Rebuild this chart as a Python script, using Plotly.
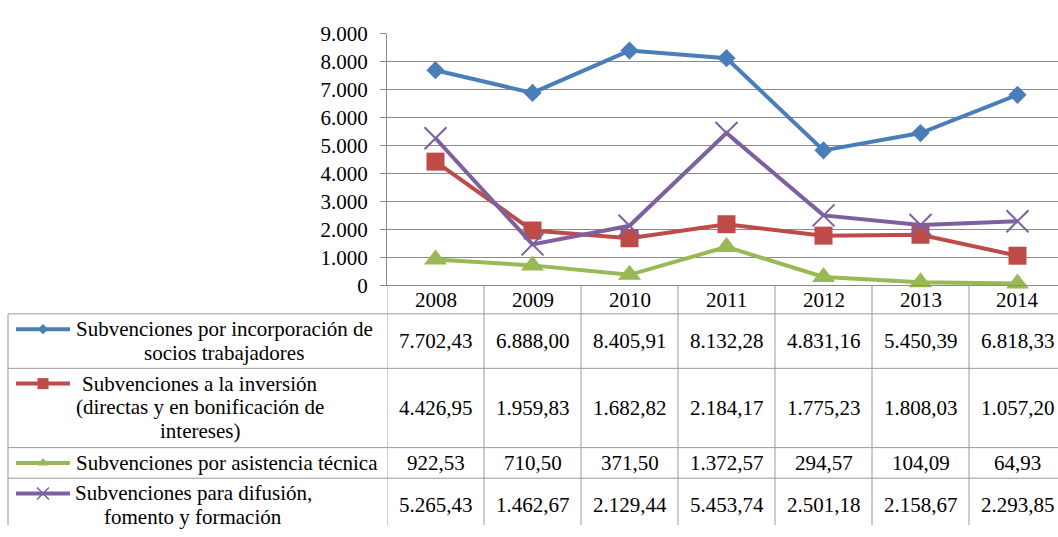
import plotly.graph_objects as go

# ---------------- data ----------------
years = ["2008", "2009", "2010", "2011", "2012", "2013", "2014"]
series_names = [
    "Subvenciones por incorporación de<br>socios trabajadores",
    "Subvenciones a la inversión<br>(directas y en bonificación de<br>intereses)",
    "Subvenciones por asistencia técnica",
    "Subvenciones para difusión,<br>fomento y formación",
]
incorporacion = [7702.43, 6888.00, 8405.91, 8132.28, 4831.16, 5450.39, 6818.33]
inversion = [4426.95, 1959.83, 1682.82, 2184.17, 1775.23, 1808.03, 1057.20]
asistencia = [922.53, 710.50, 371.50, 1372.57, 294.57, 104.09, 64.93]
difusion = [5265.43, 1462.67, 2129.44, 5453.74, 2501.18, 2158.67, 2293.85]
y_tick_vals = [0, 1000, 2000, 3000, 4000, 5000, 6000, 7000, 8000, 9000]

series_values = [incorporacion, inversion, asistencia, difusion]

# ---------------- styles / layout ----------------
W, H = 1058, 537
FONT = "Liberation Serif, Times New Roman, serif"
FS = 21
colors = ["#4A7EBB", "#BE4B48", "#98B954", "#7D60A0"]
symbols = ["diamond", "square", "triangle-up", "x-thin"]
msizes = [14, 18, 20, 22]
key_msizes = [8, 11, 10, 12]
GRID = "#8A8A8A"
TBL = "#9A9A9A"

def py(p):
    return 1 - p / H

def pxx(p):
    return p / W

def fmt(v):
    s = f"{v:,.2f}"
    return s.replace(",", "X").replace(".", ",").replace("X", ".")

plot_left, plot_top, plot_bottom = 387, 23, 286
col_w = 97
x_max = len(years) - 0.5 - (plot_left + col_w * len(years) - W) / col_w

fig = go.Figure()

for i, vals in enumerate(series_values):
    mk = dict(symbol=symbols[i], size=msizes[i], color=colors[i])
    if symbols[i] == "x-thin":
        mk["line"] = dict(color=colors[i], width=2)
    fig.add_trace(go.Scatter(
        x=years, y=vals, mode="lines+markers",
        line=dict(color=colors[i], width=4),
        marker=mk, cliponaxis=False, showlegend=False,
        xaxis="x", yaxis="y",
    ))

# ---- table geometry (pixels) ----
row_lines = [316, 373, 456, 488]
row_centers = [344.5, 414.5, 472, 516.5]
label_cx = [224, 200, 226.5, 193]
key_y = [332, 389, 472, 504]
line_gap = 25
header_y = 301
table_left = 8

# legend keys drawn on a hidden full-figure overlay axis
for i in range(len(series_values)):
    fig.add_trace(go.Scatter(
        x=[16, 70], y=[key_y[i], key_y[i]], mode="lines",
        line=dict(color=colors[i], width=4), showlegend=False,
        xaxis="x2", yaxis="y2", hoverinfo="skip",
    ))
    mk = dict(symbol=symbols[i], size=key_msizes[i], color=colors[i])
    if symbols[i] == "x-thin":
        mk["line"] = dict(color=colors[i], width=1.5)
    fig.add_trace(go.Scatter(
        x=[43], y=[key_y[i]], mode="markers", marker=mk, showlegend=False,
        xaxis="x2", yaxis="y2", hoverinfo="skip",
    ))

shapes = []
for ry in row_lines:
    shapes.append(dict(type="line", xref="paper", yref="paper",
                       x0=pxx(table_left), x1=1, y0=py(ry), y1=py(ry),
                       line=dict(color=TBL, width=1)))
shapes.append(dict(type="line", xref="paper", yref="paper",
                   x0=pxx(table_left), x1=pxx(table_left), y0=py(row_lines[0]), y1=0,
                   line=dict(color=TBL, width=1)))
for i in range(len(years)):
    shapes.append(dict(type="line", xref="x", yref="paper",
                       x0=i - 0.5, x1=i - 0.5, y0=py(plot_bottom), y1=0,
                       line=dict(color=TBL, width=1)))

annotations = []
for i, yr in enumerate(years):
    annotations.append(dict(x=i, y=py(header_y), xref="x", yref="paper",
                            text=yr, showarrow=False, xanchor="center", yanchor="middle",
                            font=dict(family=FONT, size=FS, color="black")))
for r, vals in enumerate(series_values):
    for k, part in enumerate(series_names[r].split("<br>")):
        annotations.append(dict(x=pxx(label_cx[r]), y=py(key_y[r] + k * line_gap),
                                xref="paper", yref="paper",
                                text=part, showarrow=False, align="center",
                                xanchor="center", yanchor="middle",
                                font=dict(family=FONT, size=FS, color="black")))
    for i, v in enumerate(vals):
        annotations.append(dict(x=i, y=py(row_centers[r]), xref="x", yref="paper",
                                text=fmt(v), showarrow=False, xanchor="center", yanchor="middle",
                                font=dict(family=FONT, size=FS, color="black")))

fig.update_layout(
    width=W, height=H,
    margin=dict(l=0, r=0, t=0, b=0),
    paper_bgcolor="white", plot_bgcolor="rgba(0,0,0,0)",
    separators=",.",
    showlegend=False,
    xaxis=dict(
        domain=[pxx(plot_left), 1], type="category", categoryorder="array",
        categoryarray=years, range=[-0.5, x_max],
        showticklabels=False, ticks="", showgrid=False,
        showline=True, linecolor=GRID, linewidth=1, zeroline=False,
        anchor="y", fixedrange=True,
    ),
    yaxis=dict(
        domain=[py(plot_bottom), py(plot_top)], range=[0, 9000],
        tickvals=y_tick_vals, tickformat=",d",
        ticks="outside", ticklen=6, tickcolor=GRID, tickwidth=1,
        ticklabelstandoff=8,
        showgrid=True, gridcolor=GRID, gridwidth=1,
        showline=True, linecolor=GRID, linewidth=1, zeroline=False,
        tickfont=dict(family=FONT, size=FS, color="black"),
        anchor="x", fixedrange=True,
    ),
    xaxis2=dict(domain=[0, 1], range=[0, W], visible=False, anchor="y2", fixedrange=True),
    yaxis2=dict(domain=[0, 1], range=[H, 0], visible=False, anchor="x2", fixedrange=True),
    shapes=shapes,
    annotations=annotations,
)

fig.write_html("out.html", config={"displayModeBar": False},
               post_script="document.body.style.margin='0px';")
